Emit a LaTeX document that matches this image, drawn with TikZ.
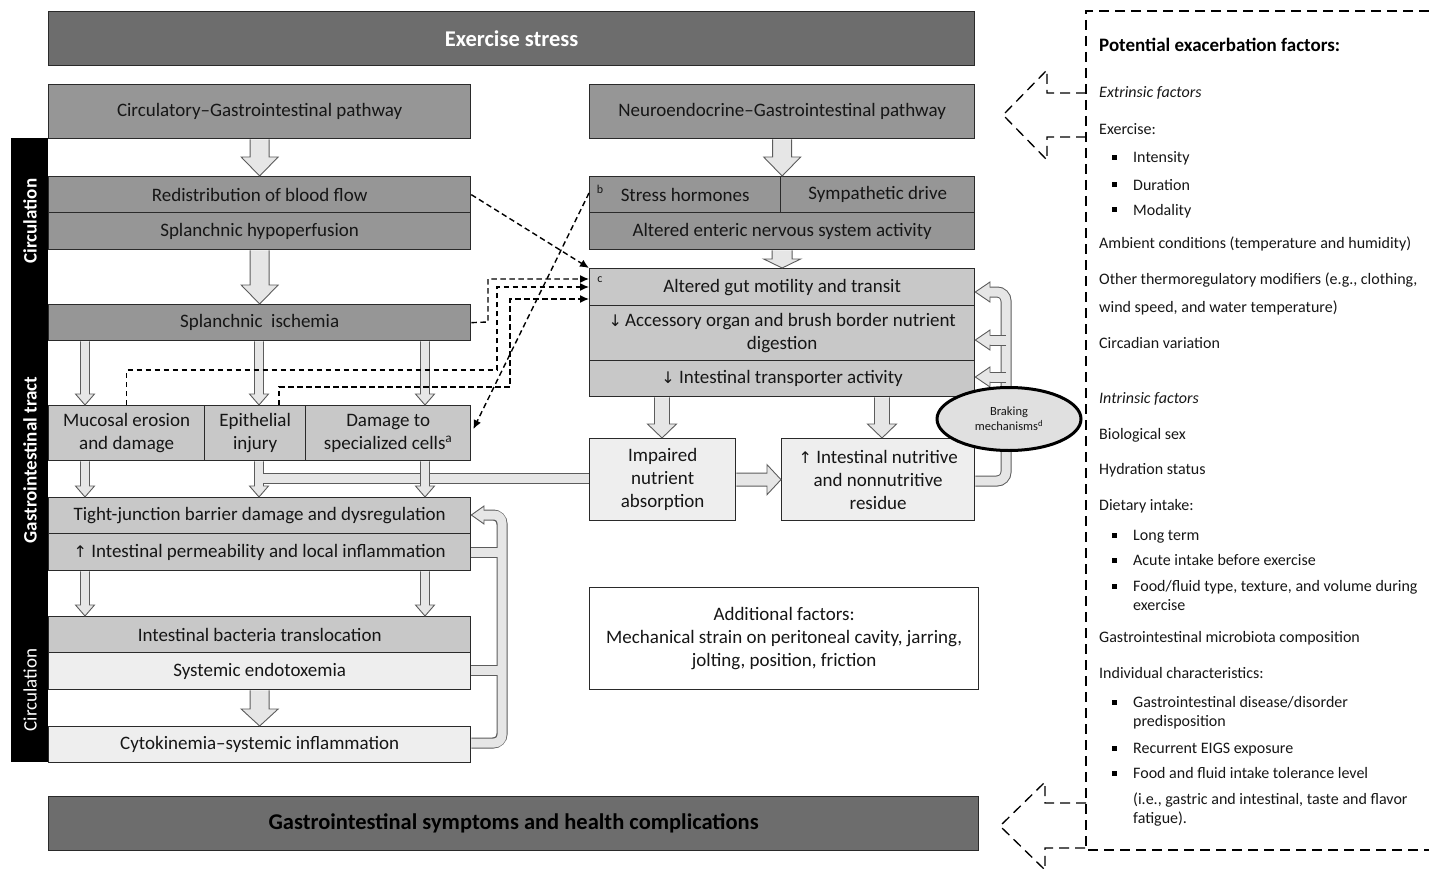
\documentclass[tikz,border=0pt]{standalone}
\usepackage{fontspec}
\setmainfont{Carlito}
\newfontfamily\djv{DejaVu Sans}
\usetikzlibrary{arrows.meta,calc,shapes.geometric}
\definecolor{gA}{HTML}{6D6D6D}
\definecolor{gB}{HTML}{969696}
\definecolor{gC}{HTML}{C8C8C8}
\definecolor{gD}{HTML}{EEEEEE}
\definecolor{arF}{HTML}{E6E6E6}
\definecolor{arL}{HTML}{5C5C5C}
\definecolor{edge}{HTML}{2A2A2A}
\definecolor{txt}{HTML}{161616}
\newcommand{\varr}[5]{\path[barrow] let \p1=(#1), \p2=(#2) in (\x1-#3,\y1) -- (\x1-#3,\y2+#5) -- (\x1-#4,\y2+#5) -- (\x1,\y2) -- (\x1+#4,\y2+#5) -- (\x1+#3,\y2+#5) -- (\x1+#3,\y1);}
\newcommand{\harr}[5]{\path[barrow] let \p1=(#1), \p2=(#2) in (\x1,\y1+#3) -- (\x2-#5,\y1+#3) -- (\x2-#5,\y1+#4) -- (\x2,\y1) -- (\x2-#5,\y1-#4) -- (\x2-#5,\y1-#3) -- (\x1,\y1-#3);}
\newcommand{\dnar}{{\djv\fontsize{16}{19}\selectfont ↓}}
\newcommand{\upar}{{\djv\fontsize{16}{19}\selectfont ↑}}
\begin{document}
\begin{tikzpicture}[x=1pt,y=-1pt,
  box/.style={draw=edge, line width=1.3pt, inner sep=1pt, align=center, anchor=north west, text=txt, font=\fontsize{19}{23}\selectfont},
  barrow/.style={draw=arL, fill=arF, line width=0.9pt, line join=miter},
  dashc/.style={draw=black, line width=1.4pt, dash pattern=on 5.5pt off 3.5pt, -{Latex[length=9pt,width=8pt]}},
  exdash/.style={draw=black, line width=1.3pt, dash pattern=on 10pt off 6pt},
  ptxt/.style={anchor=base west, inner sep=0pt, text=txt, font=\fontsize{16}{19}\selectfont},
  pbold/.style={anchor=base west, inner sep=0pt, text=black, font=\fontsize{19}{23}\selectfont\bfseries},
  bul/.style={fill=black, minimum size=5pt, inner sep=0pt},
  sidel/.style={rotate=90, text=white, font=\fontsize{19}{23}\selectfont, inner sep=0pt},
  supl/.style={inner sep=0pt, text=txt, font=\fontsize{12}{14}\selectfont}
]
\useasboundingbox (0,0) rectangle (1429,869);

% ---------------- boxes ----------------
\node[box, fill=gA, minimum width=926pt, minimum height=54pt, text=white, font=\fontsize{22.5}{26}\selectfont\bfseries] (ex) at (48,11) {Exercise stress};
\node[box, fill=gB, minimum width=422pt, minimum height=54pt] (circ) at (48,84) {Circulatory–Gastrointestinal pathway};
\node[box, fill=gB, minimum width=385pt, minimum height=54pt] (neuro) at (589,84) {Neuroendocrine–Gastrointestinal pathway};

\node[box, fill=gB, minimum width=422pt, minimum height=36pt] (redist) at (48,176) {Redistribution of blood flow};
\node[box, fill=gB, minimum width=422pt, minimum height=37pt] (hypo) at (48,212) {Splanchnic hypoperfusion};
\node[box, fill=gB, minimum width=422pt, minimum height=36pt] (isch) at (48,304) {Splanchnic\ \ ischemia};

\node[box, fill=gC, minimum width=156pt, minimum height=55pt] (muc) at (48,405) {Mucosal erosion\\and damage};
\node[box, fill=gC, minimum width=101pt, minimum height=55pt] (epi) at (204,405) {Epithelial\\injury};
\node[box, fill=gC, minimum width=165pt, minimum height=55pt] (dmg) at (305,405) {Damage to\\specialized cells\textsuperscript{a}};

\node[box, fill=gC, minimum width=422pt, minimum height=36pt] (tj) at (48,497) {Tight-junction barrier damage and dysregulation};
\node[box, fill=gC, minimum width=422pt, minimum height=37pt] (perm) at (48,533) {\upar\ Intestinal permeability and local inflammation};
\node[box, fill=gC, minimum width=422pt, minimum height=36pt] (bact) at (48,616) {Intestinal bacteria translocation};
\node[box, fill=gD, minimum width=422pt, minimum height=37pt] (endo) at (48,652) {Systemic endotoxemia};
\node[box, fill=gD, minimum width=422pt, minimum height=36pt] (cyto) at (48,726) {Cytokinemia–systemic inflammation};

\node[box, fill=gB, minimum width=191pt, minimum height=36pt] (stress) at (589,176) {Stress hormones};
\node[box, fill=gB, minimum width=194pt, minimum height=36pt] (symp) at (780,176) {Sympathetic drive};
\node[box, fill=gB, minimum width=385pt, minimum height=37pt] (ens) at (589,212) {Altered enteric nervous system activity};
\node[supl] (lb) at (600,189) {b};

\node[box, fill=gC, minimum width=385pt, minimum height=37pt] (mot) at (589,268) {Altered gut motility and transit};
\node[box, fill=gC, minimum width=385pt, minimum height=55pt] (acc) at (589,305) {\dnar\,Accessory organ and brush border nutrient\\digestion};
\node[box, fill=gC, minimum width=385pt, minimum height=36pt] (trans) at (589,360) {\dnar\ Intestinal transporter activity};
\node[supl] (lc) at (600,280) {c};

\node[box, fill=gD, minimum width=146pt, minimum height=82pt] (imp) at (589,438) {Impaired\\nutrient\\absorption};
\node[box, fill=gD, minimum width=193pt, minimum height=82pt] (resid) at (781,438) {\upar\ Intestinal nutritive\\and nonnutritive\\residue};

\node[box, fill=white, minimum width=389pt, minimum height=102pt] (addf) at (589,587) {Additional factors:\\Mechanical strain on peritoneal cavity, jarring,\\jolting, position, friction};

\node[box, fill=gA, minimum width=930pt, minimum height=54pt, text=black, font=\fontsize{22.5}{26}\selectfont\bfseries] (gis) at (48,796) {Gastrointestinal symptoms and health complications};

% ---------------- side bar ----------------
\node[fill=black, minimum width=37pt, minimum height=624pt, inner sep=0pt, anchor=north west] (side) at (11,138) {};
\node[sidel, font=\fontsize{19}{23}\selectfont\bfseries] (s1) at (30,221) {Circulation};
\node[sidel, font=\fontsize{19}{23}\selectfont\bfseries] (s2) at (30,460) {Gastrointestinal tract};
\node[sidel] (s3) at (30,690) {Circulation};

% ---------------- column coordinates ----------------
\coordinate (xa) at (85,0);
\coordinate (xb) at (259,0);
\coordinate (xc) at (425,0);
\coordinate (xm1) at (662,0);
\coordinate (xm2) at (882,0);

% ---------------- block arrows ----------------
\varr{circ.south}{redist.north}{9.5pt}{18.5pt}{19pt}
\varr{hypo.south}{isch.north}{9.5pt}{18.5pt}{19pt}
\varr{neuro.south}{stress.north east}{9.5pt}{18.5pt}{19pt}
\varr{ens.south}{mot.north}{10pt}{18.5pt}{9pt}
\varr{endo.south}{cyto.north}{9.5pt}{18.5pt}{17pt}

\varr{isch.south -| xa}{muc.north -| xa}{4.5pt}{9.5pt}{11pt}
\varr{isch.south -| xb}{epi.north -| xb}{4.5pt}{9.5pt}{11pt}
\varr{isch.south -| xc}{dmg.north -| xc}{4.5pt}{9.5pt}{11pt}

\varr{muc.south -| xa}{tj.north -| xa}{4.5pt}{9.5pt}{11pt}
\varr{epi.south -| xb}{tj.north -| xb}{4.5pt}{9.5pt}{11pt}
% band from impaired absorption joining the epithelial arrow
\fill[arF] (263.2,473.5) rectangle (589,482.5);
\draw[arL, line width=0.9pt] (263.5,473) -- (imp.west |- 0,473);
\draw[arL, line width=0.9pt] (263.5,483) -- (imp.west |- 0,483);
\varr{dmg.south -| xc}{tj.north -| xc}{4.5pt}{9.5pt}{11pt}

\varr{perm.south -| xa}{bact.north -| xa}{4.5pt}{9.5pt}{11pt}
\varr{perm.south -| xc}{bact.north -| xc}{4.5pt}{9.5pt}{11pt}

\varr{trans.south -| xm1}{imp.north -| xm1}{7.5pt}{14.5pt}{14pt}
\varr{trans.south -| xm2}{resid.north -| xm2}{7.5pt}{14.5pt}{14pt}
\harr{imp.east}{resid.west}{6.5pt}{15pt}{14pt}

% ---------------- feedback loop (left) ----------------
\coordinate (la) at (484,515);
\begin{scope}[rounded corners=9pt]
\draw[arL, line width=11pt] (cyto.east |- 0,743) -- (502,743) -- (502,515) -- (la);
\end{scope}
\draw[arL, line width=11pt] (perm.east |- 0,552) -- (502,552);
\draw[arL, line width=11pt] (endo.east |- 0,670) -- (502,670);
\begin{scope}[rounded corners=8pt]
\draw[arF, line width=9pt] (471,743) -- (502,743) -- (502,515) -- (la);
\end{scope}
\draw[arF, line width=9pt] (471,552) -- (502,552);
\draw[arF, line width=9pt] (471,670) -- (502,670);
\filldraw[fill=arF, draw=arL, line width=0.9pt] (484,510.5) -- (484,506) -- (tj.east |- 0,515) -- (484,524) -- (484,519.5);

% ---------------- braking loop (right) ----------------
\begin{scope}[rounded corners=9pt]
\draw[arL, line width=11pt] (resid.east |- 0,481) -- (1006,481) -- (1006,292) -- (989,292);
\draw[arF, line width=9pt] (975,481) -- (1006,481) -- (1006,292) -- (989,292);
\end{scope}
\draw[arL, line width=11pt] (1006,340) -- (989,340);
\draw[arL, line width=11pt] (1006,377) -- (989,377);
\draw[arF, line width=9pt] (1006.5,340) -- (988,340);
\draw[arF, line width=9pt] (1006.5,377) -- (988,377);
\foreach \yy/\nm in {292/mot,340/acc,377/trans}{
  \filldraw[fill=arF, draw=arL, line width=0.9pt] (990,\yy-4.5) -- (990,\yy-10) -- (\nm.east |- 0,\yy) -- (990,\yy+10) -- (990,\yy+4.5);
}
\node[draw=black, line width=3pt, fill=gD!94!black, ellipse, minimum width=144pt, minimum height=63pt, inner sep=0pt, align=center, text=txt, font=\fontsize{12.5}{15}\selectfont] (brake) at (1009,419) {Braking\\mechanisms\textsuperscript{d}};

% ---------------- dashed connectors ----------------
\draw[dashc] (redist.east) -- (mot.north west);
\draw[dashc] ($(stress.north west)+(0,17)$) -- ($(dmg.east)+(2,-4)$);
\draw[dashc] (isch.east) -- (488,322) |- ($(mot.north west)+(0,11)$);
\draw[dashc] (muc.north) |- (497,370) |- ($(mot.north west)+(0,19)$);
\draw[dashc] ($(epi.north)+(24,0)$) |- (510,387) |- ($(mot.north west)+(0,31)$);

% ---------------- exacerbation panel ----------------
\coordinate (pr1) at (1429,11);
\coordinate (pr2) at (1429,850);
\draw[exdash] (pr1) -- (1086,11) -- (1086,850) -- (pr2);
\draw[exdash] (1086,93) -- (1047,93) -- (1047,70) -- (1003,115) -- (1047,160) -- (1047,137) -- (1086,137);
\draw[exdash] (1086,803) -- (1045,803) -- (1045,782) -- (1000,826) -- (1045,870) -- (1045,848) -- (1086,848);

\node[pbold] (p0) at (1099,52) {Potential exacerbation factors:};
\node[ptxt, font=\fontsize{16}{19}\selectfont\itshape] (p1) at (1099,98) {Extrinsic factors};
\node[ptxt] (p2) at (1099,135) {Exercise:};
\node[ptxt] (p3) at (1133,163) {Intensity};
\node[ptxt] (p4) at (1133,190) {Duration};
\node[ptxt] (p5) at (1133,215) {Modality};
\node[ptxt] (p6) at (1099,248) {Ambient conditions (temperature and humidity)};
\node[ptxt] (p7) at (1099,284) {Other thermoregulatory modifiers (e.g., clothing,};
\node[ptxt] (p8) at (1099,312) {wind speed, and water temperature)};
\node[ptxt] (p9) at (1099,348) {Circadian variation};
\node[ptxt, font=\fontsize{16}{19}\selectfont\itshape] (p10) at (1099,403) {Intrinsic factors};
\node[ptxt] (p11) at (1099,439) {Biological sex};
\node[ptxt] (p12) at (1099,474) {Hydration status};
\node[ptxt] (p13) at (1099,510) {Dietary intake:};
\node[ptxt] (p14) at (1133,540) {Long term};
\node[ptxt] (p15) at (1133,565) {Acute intake before exercise};
\node[ptxt] (p16) at (1133,591) {Food/fluid type, texture, and volume during};
\node[ptxt] (p17) at (1133,610) {exercise};
\node[ptxt] (p18) at (1099,642) {Gastrointestinal microbiota composition};
\node[ptxt] (p19) at (1099,678) {Individual characteristics:};
\node[ptxt] (p20) at (1133,707) {Gastrointestinal disease/disorder};
\node[ptxt] (p21) at (1133,726) {predisposition};
\node[ptxt] (p22) at (1133,753) {Recurrent EIGS exposure};
\node[ptxt] (p23) at (1133,778) {Food and fluid intake tolerance level};
\node[ptxt] (p24) at (1133,804) {(i.e., gastric and intestinal, taste and flavor};
\node[ptxt] (p25) at (1133,823) {fatigue).};
\foreach \yy/\nm in {158/b1,185/b2,210/b3,535/b4,560/b5,586/b6,702/b7,748/b8,773/b9}{
  \node[bul] (\nm) at (1114,\yy) {};
}
\end{tikzpicture}
\end{document}
